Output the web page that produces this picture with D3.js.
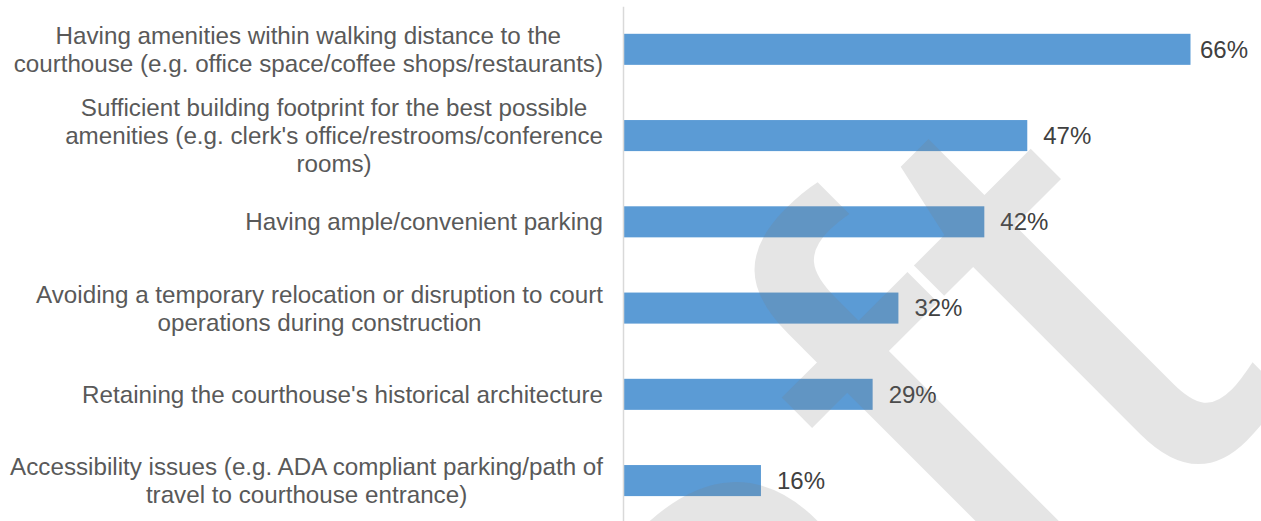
<!DOCTYPE html>
<html>
<head>
<meta charset="utf-8">
<script src="https://cdn.jsdelivr.net/npm/d3@7"></script>
<style>
  html, body { margin: 0; padding: 0; background: #ffffff; }
  svg { display: block; }
</style>
</head>
<body>
<div id="chart"></div>
<script>
// ---- data ----
const categories = [
  "Having amenities within walking distance to the\ncourthouse (e.g. office space/coffee shops/restaurants)",
  "Sufficient building footprint for the best possible\namenities (e.g. clerk's office/restrooms/conference\nrooms)",
  "Having ample/convenient parking",
  "Avoiding a temporary relocation or disruption to court\noperations during construction",
  "Retaining the courthouse's historical architecture",
  "Accessibility issues (e.g. ADA compliant parking/path of\ntravel to courthouse entrance)"
];
const values = [0.66, 0.47, 0.42, 0.32, 0.29, 0.16];
const watermarkText = "Draft";

// ---- layout ----
const W = 1261, H = 521;
const axisX = 623;
const labelRight = 603;
const plotRight = 1248;

const svg = d3.select("#chart").append("svg")
  .attr("width", W).attr("height", H)
  .attr("viewBox", `0 0 ${W} ${H}`);

const x = d3.scaleLinear().domain([0, 0.66]).range([axisX + 0.5, 1190.5]);
const y = d3.scaleBand().domain(d3.range(categories.length))
  .range([6.2, 523.7]).paddingInner(0.64).paddingOuter(0.32);

// bars
svg.append("g").selectAll("rect").data(values).join("rect")
  .attr("x", x(0))
  .attr("y", (d, i) => y(i))
  .attr("width", d => x(d) - x(0))
  .attr("height", y.bandwidth())
  .attr("fill", "#5b9bd5");

// axis line
const axis = svg.append("g")
  .attr("transform", `translate(${axisX},0)`)
  .call(d3.axisLeft(y).tickSize(0).tickSizeOuter(0).tickFormat(""));
axis.select(".domain").attr("stroke", "#d9d9d9").attr("stroke-width", 1.5);
axis.selectAll(".tick").remove();

// category labels
const labelFont = 24.2, lineH = 28;
categories.forEach((c, i) => {
  const lines = c.split("\n");
  const cy = y(i) + y.bandwidth() / 2;
  const t = svg.append("text")
    .attr("font-family", "Liberation Sans, Arial, sans-serif")
    .attr("font-size", labelFont)
    .attr("fill", "#595959")
    .attr("text-anchor", "middle");
  const spans = lines.map((ln, j) => t.append("tspan")
    .attr("y", cy + (j - (lines.length - 1) / 2) * lineH + labelFont * 0.35)
    .text(ln));
  const maxW = d3.max(spans, s => s.node().getComputedTextLength());
  spans.forEach(s => s.attr("x", labelRight - maxW / 2));
});

// value labels
const valFont = 24;
values.forEach((v, i) => {
  const cy = y(i) + y.bandwidth() / 2;
  const t = svg.append("text")
    .attr("font-family", "Liberation Sans, Arial, sans-serif")
    .attr("font-size", valFont)
    .attr("fill", "#404040")
    .attr("y", cy + valFont * 0.35)
    .text(d3.format(".0%")(v));
  const w = t.node().getComputedTextLength();
  t.attr("x", Math.min(x(v) + 16, plotRight - w));
});

// watermark
svg.append("text")
  .attr("transform", "translate(262,1418) rotate(-45)")
  .attr("font-family", "Liberation Sans, Arial, sans-serif")
  .attr("font-size", 670)
  .attr("fill", "#7f7f7f")
  .attr("fill-opacity", 0.2)
  .text(watermarkText);
</script>
</body>
</html>
